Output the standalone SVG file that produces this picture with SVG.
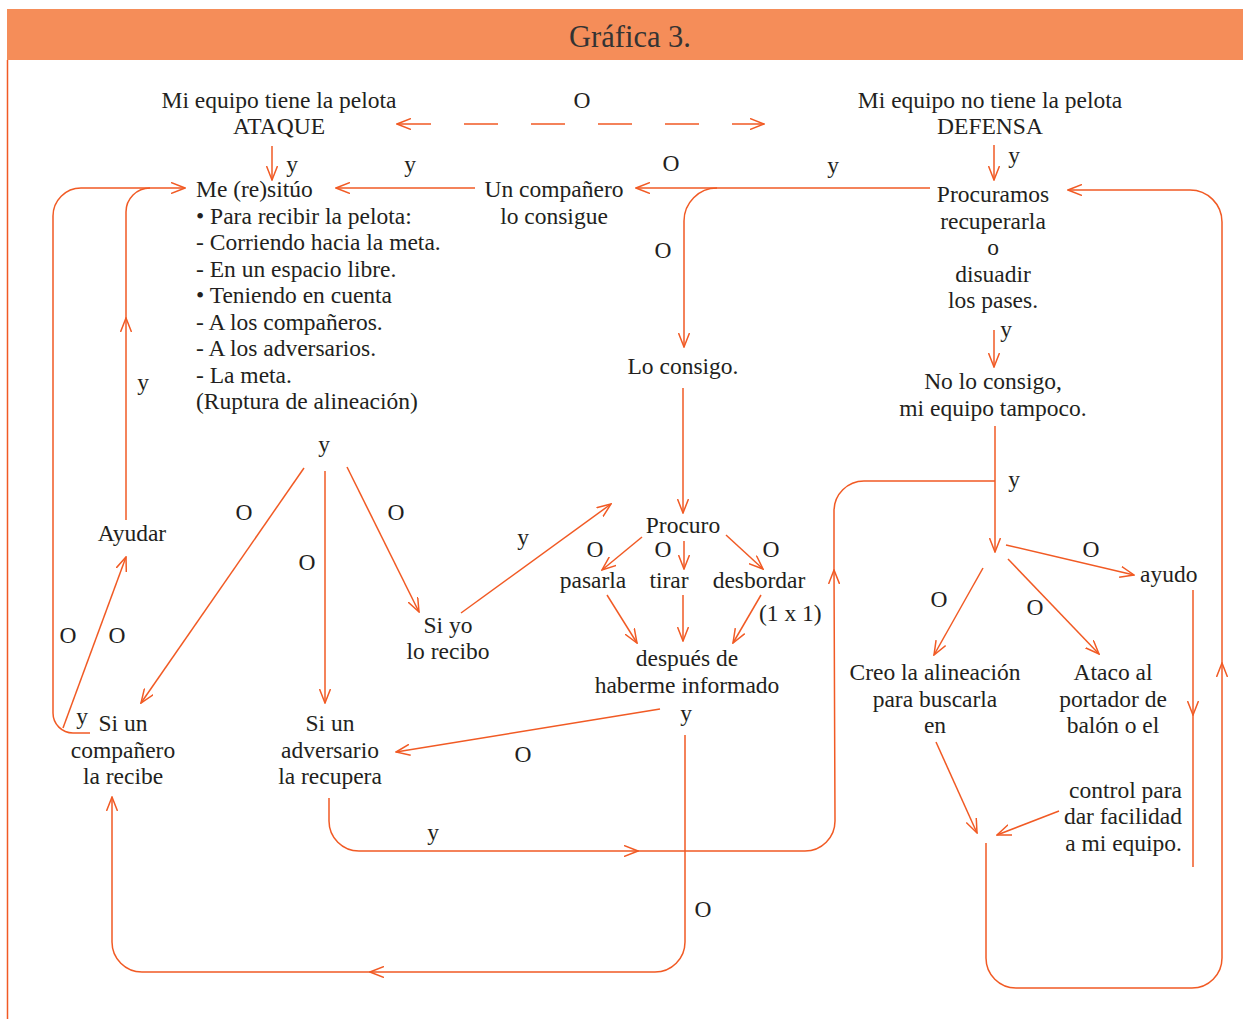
<svg xmlns="http://www.w3.org/2000/svg" width="1243" height="1019" viewBox="0 0 1243 1019">
<style>
.t{font-family:"Liberation Serif","Times New Roman",serif;font-size:23.5px;fill:#231F20}
.m{text-anchor:middle}
.e{text-anchor:end}
.c path,.c line{fill:none;stroke:#F15A24;stroke-width:1.5}
</style>
<defs>
<marker id="ah" viewBox="0 0 15 12" refX="14" refY="6" markerWidth="15" markerHeight="12" markerUnits="userSpaceOnUse" orient="auto-start-reverse">
<path d="M0,0.5 L14,6 L0,11.5" fill="none" stroke="#F15A24" stroke-width="1.5"/>
</marker>
</defs>
<rect width="1243" height="1019" fill="#FFFFFF"/>
<g id="header">
<rect x="7" y="9" width="1236" height="51" fill="#F58D59"/>
<text class="t m" x="630" y="47" style="font-size:30.5px;fill:#333">Gráfica 3.</text>
</g>
<line x1="7.5" y1="60" x2="7.5" y2="1019" stroke="#F15A24" stroke-width="1.5"/>

<g class="c" id="connectors">
<line x1="397" y1="124" x2="764" y2="124" stroke-dasharray="34 33" marker-start="url(#ah)" marker-end="url(#ah)"/>
<path d="M272,146 L272,180" marker-end="url(#ah)"/>
<path d="M475,188 L336,188" marker-end="url(#ah)"/>
<path d="M930,188 L636,188" marker-end="url(#ah)"/>
<path d="M717,188 A33,33 0 0 0 684,221 L684,347" marker-end="url(#ah)"/>
<path d="M683,388 L683,513" marker-end="url(#ah)"/>
<path d="M642,537 L602,570" marker-end="url(#ah)"/>
<path d="M684,541 L684,569" marker-end="url(#ah)"/>
<path d="M726,535 L763,569" marker-end="url(#ah)"/>
<path d="M607,595 L637,643" marker-end="url(#ah)"/>
<path d="M683,595 L683,641" marker-end="url(#ah)"/>
<path d="M761,595 L733,643" marker-end="url(#ah)"/>
<path d="M660,709 L396,752" marker-end="url(#ah)"/>
<path d="M685,735 L685,942 A30,30 0 0 1 655,972 L370,972" marker-end="url(#ah)"/>
<path d="M372,972 L142,972 A30,30 0 0 1 112,942 L112,797" marker-end="url(#ah)"/>
<path d="M304,468 L141,703" marker-end="url(#ah)"/>
<path d="M325,471 L325,703" marker-end="url(#ah)"/>
<path d="M347,467 L419,612" marker-end="url(#ah)"/>
<path d="M461,613 L611,504" marker-end="url(#ah)"/>
<path d="M63,728 L126,557" marker-end="url(#ah)"/>
<path d="M126,520 L126,318" marker-end="url(#ah)"/>
<path d="M126,320 L126,212 A24,24 0 0 1 150,188"/>
<path d="M90,733 L73,733 A20,20 0 0 1 53,713 L53,216 A28,28 0 0 1 81,188 L185,188" marker-end="url(#ah)"/>
<path d="M994,145 L994,180" marker-end="url(#ah)"/>
<path d="M994,330 L994,367" marker-end="url(#ah)"/>
<path d="M995,426 L995,552" marker-end="url(#ah)"/>
<path d="M329,798 L329,821 A30,30 0 0 0 359,851 L638,851" marker-end="url(#ah)"/>
<path d="M636,851 L805,851 A30,30 0 0 0 835,821 L834,570" marker-end="url(#ah)"/>
<path d="M834,572 L834,511 A30,30 0 0 1 864,481 L995,481"/>
<path d="M1006,545 L1134,575" marker-end="url(#ah)"/>
<path d="M983,568 L934,655" marker-end="url(#ah)"/>
<path d="M1008,559 L1099,654" marker-end="url(#ah)"/>
<path d="M1193,590 L1193,715" marker-end="url(#ah)"/>
<path d="M1193,713 L1193,867"/>
<path d="M936,742 L977,833" marker-end="url(#ah)"/>
<path d="M1059,811 L997,835" marker-end="url(#ah)"/>
<path d="M986,843 L986,958 A30,30 0 0 0 1016,988 L1192,988 A30,30 0 0 0 1222,958 L1222,663" marker-end="url(#ah)"/>
<path d="M1222,665 L1222,222 A32,32 0 0 0 1190,190 L1068,190" marker-end="url(#ah)"/>
</g>

<g id="labels" class="t">
<text class="m" x="582" y="108">O</text>
<text class="m" x="292" y="172">y</text>
<text class="m" x="410" y="172">y</text>
<text class="m" x="671" y="171">O</text>
<text class="m" x="833" y="173">y</text>
<text class="m" x="1014" y="163">y</text>
<text class="m" x="663" y="258">O</text>
<text class="m" x="1006" y="337">y</text>
<text class="m" x="143" y="390">y</text>
<text class="m" x="324" y="452">y</text>
<text class="m" x="1014" y="487">y</text>
<text class="m" x="244" y="520">O</text>
<text class="m" x="396" y="520">O</text>
<text class="m" x="307" y="570">O</text>
<text class="m" x="523" y="545">y</text>
<text class="m" x="595" y="557">O</text>
<text class="m" x="663" y="557">O</text>
<text class="m" x="771" y="557">O</text>
<text class="m" x="1091" y="557">O</text>
<text class="m" x="939" y="607">O</text>
<text class="m" x="1035" y="615">O</text>
<text x="759" y="621">(1 x 1)</text>
<text class="m" x="68" y="643">O</text>
<text class="m" x="117" y="643">O</text>
<text class="m" x="686" y="721">y</text>
<text class="m" x="82" y="724">y</text>
<text class="m" x="523" y="762">O</text>
<text class="m" x="433" y="840">y</text>
<text class="m" x="703" y="917">O</text>
</g>

<g id="ataque" class="t m"><text x="279" y="108">Mi equipo tiene la pelota</text><text x="279" y="134">ATAQUE</text></g>
<g id="defensa" class="t m"><text x="990" y="108">Mi equipo no tiene la pelota</text><text x="990" y="134">DEFENSA</text></g>
<g id="resituo" class="t">
<text x="196" y="197">Me (re)sitúo</text>
<text x="196" y="223.5">• Para recibir la pelota:</text>
<text x="196" y="250">- Corriendo hacia la meta.</text>
<text x="196" y="276.5">- En un espacio libre.</text>
<text x="196" y="303">• Teniendo en cuenta</text>
<text x="196" y="329.5">- A los compañeros.</text>
<text x="196" y="356">- A los adversarios.</text>
<text x="196" y="382.5">- La meta.</text>
<text x="196" y="409">(Ruptura de alineación)</text>
</g>
<g id="companero-consigue" class="t m"><text x="554" y="197">Un compañero</text><text x="554" y="224">lo consigue</text></g>
<g id="procuramos" class="t m">
<text x="993" y="202">Procuramos</text>
<text x="993" y="228.5">recuperarla</text>
<text x="993" y="255">o</text>
<text x="993" y="281.5">disuadir</text>
<text x="993" y="308">los pases.</text>
</g>
<g id="lo-consigo" class="t m"><text x="683" y="374">Lo consigo.</text></g>
<g id="no-lo-consigo" class="t m"><text x="993" y="389">No lo consigo,</text><text x="993" y="416">mi equipo tampoco.</text></g>
<g id="ayudar" class="t m"><text x="132" y="541">Ayudar</text></g>
<g id="procuro" class="t m"><text x="683" y="533">Procuro</text></g>
<g id="pasarla" class="t m"><text x="593" y="588">pasarla</text></g>
<g id="tirar" class="t m"><text x="669" y="588">tirar</text></g>
<g id="desbordar" class="t m"><text x="759" y="588">desbordar</text></g>
<g id="ayudo" class="t"><text x="1140" y="582">ayudo</text></g>
<g id="si-yo" class="t m"><text x="448" y="633">Si yo</text><text x="448" y="659">lo recibo</text></g>
<g id="despues" class="t m"><text x="687" y="666">después de</text><text x="687" y="693">haberme informado</text></g>
<g id="creo" class="t m"><text x="935" y="680">Creo la alineación</text><text x="935" y="707">para buscarla</text><text x="935" y="733">en</text></g>
<g id="ataco" class="t m"><text x="1113" y="680">Ataco al</text><text x="1113" y="707">portador de</text><text x="1113" y="733">balón o el</text></g>
<g id="si-companero" class="t m"><text x="123" y="731">Si un</text><text x="123" y="758">compañero</text><text x="123" y="784">la recibe</text></g>
<g id="si-adversario" class="t m"><text x="330" y="731">Si un</text><text x="330" y="758">adversario</text><text x="330" y="784">la recupera</text></g>
<g id="control" class="t e"><text x="1182" y="798">control para</text><text x="1182" y="824">dar facilidad</text><text x="1182" y="851">a mi equipo.</text></g>
</svg>
